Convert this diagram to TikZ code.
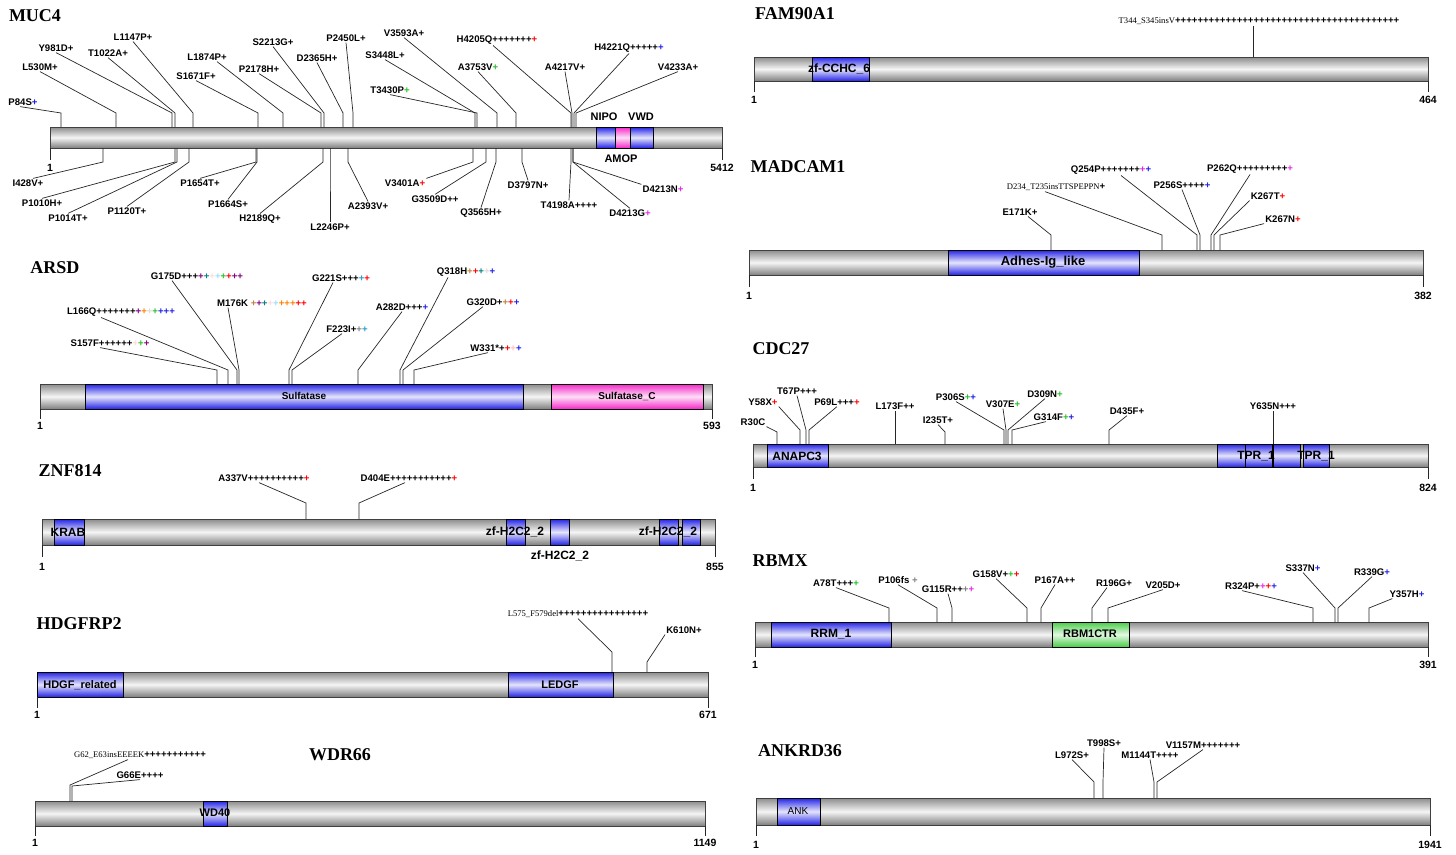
\documentclass[tikz,border=0pt]{standalone}
\usepackage{fontspec}
\setmainfont{Liberation Sans}
\newfontfamily\genefont{Liberation Serif}
\usetikzlibrary{positioning}
\definecolor{domblue}{RGB}{36,36,230}
\definecolor{dompink}{RGB}{245,40,200}
\definecolor{domgreen}{RGB}{70,205,70}
\definecolor{pblue}{RGB}{30,30,230}
\definecolor{pgreen}{RGB}{40,190,40}
\definecolor{pmag}{RGB}{225,40,225}
\newcommand{\plusc}[1]{\textcolor{#1}{+}}
\newcommand{\serifsmall}[1]{{\genefont\mdseries\fontsize{8.6}{9}\selectfont #1}}
\newcommand{\mut}[6]{%
  \node[lab] (#1) at (#2) {#3};
  \coordinate (#1-b) at (#5,\bary);
  \coordinate (#1-k) at (#5,#6);
  \draw[stick] (#1-b) -- (#1-k) -- (#4);}

\begin{document}
\begin{tikzpicture}[
  x=1pt, y=-1pt,
  genetitle/.style={font=\genefont\bfseries\fontsize{18}{20}\selectfont, inner sep=0pt},
  lab/.style={font=\bfseries\fontsize{9.6}{11}\selectfont, inner sep=1pt},
  num/.style={font=\bfseries\fontsize{10.5}{11}\selectfont, inner sep=0pt},
  dlab/.style={font=\bfseries\fontsize{11}{12}\selectfont, inner sep=0pt},
  bar/.style={draw=black!75, line width=0.6pt, top color=black!45, bottom color=black!50, middle color=black!4},
  dblue/.style={draw=black, line width=0.6pt, top color=domblue, bottom color=domblue, middle color=domblue!12},
  dpink/.style={draw=black, line width=0.6pt, top color=dompink, bottom color=dompink, middle color=dompink!15},
  dgreen/.style={draw=black, line width=0.6pt, top color=domgreen, bottom color=domgreen, middle color=domgreen!15},
  stick/.style={draw=black!85, line width=0.7pt},
  endtick/.style={draw=black!85, line width=0.7pt}
]
\useasboundingbox (0,0) rectangle (1456,854);

% MUC4
\node[genetitle] (t-muc4) at (35,16) {MUC4};
\draw[bar] (50,127) rectangle (722,148);
\draw[dblue] (596,127) rectangle (615,148);
\draw[dpink] (615,127) rectangle (630,148);
\draw[dblue] (630,127) rectangle (653,148);
\node[dlab] (d-nipo) at (604,117) {NIPO};
\node[dlab] (d-vwd) at (641,117) {VWD};
\node[dlab] (d-amop) at (621,159) {AMOP};
\draw[endtick] (50,148) -- (50,160);
\draw[endtick] (722,148) -- (722,160);
\node[num] (n-muc4a) at (50,168) {1};
\node[num] (n-muc4b) at (722,168) {5412};
\def\bary{127}
\mut{p84s}{23,102}{P84S\plusc{pblue}}{[xshift=-3pt]p84s.south}{61}{113}
\mut{l530m}{40,67}{L530M+}{l530m.south}{116}{113}
\mut{y981d}{56,48}{Y981D+}{y981d.south}{172}{113}
\mut{t1022a}{108,53}{T1022A+}{t1022a.south}{175}{113}
\mut{l1147p}{133,37}{L1147P+}{l1147p.south}{193}{113}
\mut{s1671f}{196,76}{S1671F+}{s1671f.south}{258}{113}
\mut{l1874p}{207,57}{L1874P+}{[xshift=10pt]l1874p.south}{283}{113}
\mut{p2178h}{259,69}{P2178H+}{p2178h.south}{321}{113}
\mut{s2213g}{273,42}{S2213G+}{s2213g.south}{324}{113}
\mut{d2365h}{317,58}{D2365H+}{d2365h.south}{343}{113}
\mut{p2450l}{346,38}{P2450L+}{p2450l.south}{353}{113}
\mut{s3448l}{385,55}{S3448L+}{s3448l.south}{475}{113}
\mut{t3430p}{390,90}{T3430P\plusc{pgreen}}{t3430p.south}{477}{113}
\mut{v3593a}{404,33}{V3593A+}{v3593a.south}{497}{113}
\mut{a3753v}{478,67}{A3753V\plusc{pgreen}}{a3753v.south}{516}{113}
\mut{h4205q}{497,40}{H4205Q+++++++\plusc{red}}{[xshift=-4pt]h4205q.south}{571}{113}
\mut{a4217v}{565,67}{A4217V+}{a4217v.south}{572}{113}
\mut{h4221q}{629,48}{H4221Q+++++\plusc{pblue}}{h4221q.south}{574}{113}
\mut{v4233a}{678,67}{V4233A+}{v4233a.south}{576}{113}
\def\bary{148}
\mut{i428v}{28,183}{I428V+}{[xshift=5pt]i428v.north}{103}{162}
\mut{p1010h}{42,203}{P1010H+}{p1010h.north}{175}{162}
\mut{p1014t}{68,218}{P1014T+}{p1014t.north}{177}{162}
\mut{p1120t}{127,211}{P1120T+}{p1120t.north}{189}{162}
\mut{p1654t}{200,183}{P1654T+}{p1654t.north}{256}{162}
\mut{p1664s}{228,204}{P1664S+}{p1664s.north}{257}{162}
\mut{h2189q}{260,219}{H2189Q+}{h2189q.north}{323}{162}
\mut{l2246p}{330,227}{L2246P+}{l2246p.north}{330}{162}
\mut{a2393v}{368,206}{A2393V+}{a2393v.north}{348}{162}
\mut{v3401a}{405,183}{V3401A\plusc{red}}{v3401a.north east}{473}{162}
\mut{g3509d}{435,199}{G3509D++}{g3509d.north}{486}{162}
\mut{q3565h}{481,213}{Q3565H+}{q3565h.north}{496}{162}
\mut{d3797n}{528,185}{D3797N+}{d3797n.north}{522}{162}
\mut{t4198a}{569,205}{T4198A++++}{t4198a.north}{571}{162}
\mut{d4213n}{663,189}{D4213N\plusc{pmag}}{d4213n.north west}{573}{162}
\mut{d4213g}{630,213}{D4213G\plusc{pmag}}{d4213g.north}{573}{162}

% ARSD
\node[genetitle] (t-arsd) at (55,268) {ARSD};
\draw[bar] (40,384) rectangle (712,409);
\draw[dblue] (85,384) rectangle (523,409);
\draw[dpink] (551,384) rectangle (703,409);
\node[dlab, font=\bfseries\fontsize{10}{11}\selectfont] (d-sulf) at (304,396) {Sulfatase};
\node[dlab, font=\bfseries\fontsize{10}{11}\selectfont] (d-sulfc) at (627,396) {Sulfatase\_C};
\draw[endtick] (40,409) -- (40,419);
\draw[endtick] (712,409) -- (712,419);
\node[num] (n-arsda) at (40,426) {1};
\node[num] (n-arsdb) at (712,426) {593};
\def\bary{384}
\mut{s157f}{110,343}{S157F++++++\plusc{pink!60}\plusc{pgreen}\plusc{violet}}{[xshift=-10pt]s157f.south}{217}{370}
\mut{l166q}{121,312}{L166Q+++++++\plusc{violet}\plusc{orange}\plusc{gray!30}\plusc{pgreen}\plusc{pblue}\plusc{pblue}\plusc{pblue}}{[xshift=-20pt]l166q.south}{228}{370}
\mut{g175d}{197,276}{G175D+++\plusc{violet}\plusc{teal}\plusc{pink!60}\plusc{cyan!40}\plusc{pgreen}\plusc{red}\plusc{violet}\plusc{violet}}{[xshift=-25pt]g175d.south}{237}{370}
\mut{m176k}{262,303}{M176K \plusc{brown}\plusc{violet}\plusc{teal}\plusc{pink!60}\plusc{cyan!40}\plusc{orange}\plusc{orange}\plusc{orange}\plusc{red}\plusc{red}}{[xshift=-34pt]m176k.south}{239}{370}
\mut{g221s}{341,278}{G221S+++\plusc{cyan!60!teal}\plusc{red}}{[xshift=-8pt]g221s.south}{289}{370}
\mut{f223i}{347,329}{F223I+\plusc{gray}\plusc{cyan!60!teal}}{[xshift=-5pt]f223i.south}{292}{370}
\mut{a282d}{402,307}{A282D+++\plusc{pblue}}{a282d.south}{358}{370}
\mut{q318h}{466,272}{Q318H\plusc{brown}\plusc{red}\plusc{teal}\plusc{gray!30}\plusc{pblue}}{[xshift=-18pt]q318h.south}{400}{370}
\mut{g320d}{493,302}{G320D+\plusc{brown}\plusc{red}\plusc{pblue}}{[xshift=-10pt]g320d.south}{403}{370}
\mut{w331}{496,348}{W331*+\plusc{red}\plusc{pink}\plusc{pblue}}{[xshift=-8pt]w331.south}{414}{370}

% ZNF814
\node[genetitle] (t-znf) at (70,471) {ZNF814};
\draw[bar] (42,519) rectangle (715,545);
\draw[dblue] (54,519) rectangle (84,545);
\draw[dblue] (506,519) rectangle (525,545);
\draw[dblue] (550,519) rectangle (569,545);
\draw[dblue] (659,519) rectangle (678,545);
\draw[dblue] (682,519) rectangle (700,545);
\node[dlab, font=\bfseries\fontsize{12}{13}\selectfont] (d-krab) at (68,532) {KRAB};
\node[dlab, font=\bfseries\fontsize{12}{13}\selectfont] (d-zf1) at (515,532) {zf-H2C2\_2};
\node[dlab, font=\bfseries\fontsize{12}{13}\selectfont] (d-zf2) at (560,556) {zf-H2C2\_2};
\node[dlab, font=\bfseries\fontsize{12}{13}\selectfont] (d-zf3) at (668,532) {zf-H2C2\_2};
\draw[endtick] (42,545) -- (42,557);
\draw[endtick] (715,545) -- (715,557);
\node[num] (n-znfa) at (42,567) {1};
\node[num] (n-znfb) at (715,567) {855};
\def\bary{519}
\mut{a337v}{264,478}{A337V++++++++++\plusc{red}}{[xshift=-5pt]a337v.south}{306}{503}
\mut{d404e}{409,478}{D404E+++++++++++\plusc{red}}{[xshift=-4pt]d404e.south}{359}{503}

% HDGFRP2
\node[genetitle] (t-hdg) at (79,624) {HDGFRP2};
\draw[bar] (37,672) rectangle (708,697);
\draw[dblue] (37,672) rectangle (123,697);
\draw[dblue] (508,672) rectangle (613,697);
\node[dlab] (d-hdgf) at (80,685) {HDGF\_related};
\node[dlab] (d-ledgf) at (560,685) {LEDGF};
\draw[endtick] (37,697) -- (37,708);
\draw[endtick] (708,697) -- (708,708);
\node[num] (n-hdga) at (37,715) {1};
\node[num] (n-hdgb) at (708,715) {671};
\def\bary{672}
\mut{l575}{578,614}{\serifsmall{L575\_F579del}++++++++++++++++}{l575.south}{612}{652}
\mut{k610n}{684,630}{K610N+}{k610n.south west}{647}{662}

% WDR66
\node[genetitle] (t-wdr) at (340,755) {WDR66};
\draw[bar] (35,801) rectangle (705,826);
\draw[dblue] (203,801) rectangle (227,826);
\node[dlab] (d-wd40) at (215,813) {WD40};
\draw[endtick] (35,826) -- (35,836);
\draw[endtick] (705,826) -- (705,836);
\node[num] (n-wdra) at (35,843) {1};
\node[num] (n-wdrb) at (705,843) {1149};
\def\bary{801}
\mut{g62}{140,755}{\serifsmall{G62\_E63insEEEEK}+++++++++++}{[xshift=-12pt]g62.south}{70}{785}
\mut{g66e}{140,775}{G66E++++}{g66e.south}{72}{786}

% FAM90A1
\node[genetitle] (t-fam) at (795,14) {FAM90A1};
\draw[bar] (754,57) rectangle (1428,81);
\draw[dblue] (812,57) rectangle (869,81);
\node[dlab, font=\bfseries\fontsize{12}{13}\selectfont] (d-zfc) at (839,69) {zf-CCHC\_6};
\draw[endtick] (754,81) -- (754,92);
\draw[endtick] (1428,81) -- (1428,92);
\node[num] (n-fama) at (754,100) {1};
\node[num] (n-famb) at (1428,100) {464};
\def\bary{57}
\mut{t344}{1259,21}{\serifsmall{T344\_S345insV}++++++++++++++++++++++++++++++++++++++++}{t344.south -| t344-b}{1253}{57}

% MADCAM1
\node[genetitle] (t-mad) at (798,167) {MADCAM1};
\draw[bar] (749,250) rectangle (1423,275);
\draw[dblue] (948,250) rectangle (1139,275);
\node[dlab, font=\bfseries\fontsize{13}{14}\selectfont] (d-adhes) at (1043,262) {Adhes-Ig\_like};
\draw[endtick] (749,275) -- (749,287);
\draw[endtick] (1423,275) -- (1423,287);
\node[num] (n-mada) at (749,296) {1};
\node[num] (n-madb) at (1423,296) {382};
\def\bary{250}
\mut{e171k}{1020,212}{E171K+}{[xshift=8pt]e171k.south}{1051}{235}
\mut{d234}{1056,187}{\serifsmall{D234\_T235insTTSPEPPN}+}{[xshift=-11pt]d234.south}{1162}{235}
\mut{q254p}{1111,170}{Q254P+++++++\plusc{pmag}\plusc{pblue}}{[xshift=10pt]q254p.south}{1197}{235}
\mut{p256s}{1182,185}{P256S++++\plusc{pblue}}{p256s.south}{1200}{235}
\mut{p262q}{1250,169}{P262Q+++++++++\plusc{pmag}}{p262q.south}{1211}{235}
\mut{k267t}{1268,196}{K267T\plusc{red}}{k267t.south west}{1214}{235}
\mut{k267n}{1283,219}{K267N\plusc{red}}{k267n.south west}{1220}{235}

% CDC27
\node[genetitle] (t-cdc) at (781,349) {CDC27};
\draw[bar] (753,444) rectangle (1428,467);
\draw[dblue] (767,444) rectangle (828,467);
\draw[dblue] (1217,444) rectangle (1245,467);
\draw[dblue] (1245,444) rectangle (1272,467);
\draw[dblue] (1273,444) rectangle (1300,467);
\draw[dblue] (1303,444) rectangle (1329,467);
\node[dlab, font=\bfseries\fontsize{12}{13}\selectfont] (d-anapc) at (797,456) {ANAPC3};
\node[dlab, font=\bfseries\fontsize{12}{13}\selectfont] (d-tpr1) at (1256,456) {TPR\_1};
\node[dlab, font=\bfseries\fontsize{12}{13}\selectfont] (d-tpr2) at (1316,456) {TPR\_1};
\draw[endtick] (753,467) -- (753,479);
\draw[endtick] (1428,467) -- (1428,479);
\node[num] (n-cdca) at (753,488) {1};
\node[num] (n-cdcb) at (1428,488) {824};
\def\bary{444}
\mut{r30c}{753,422}{R30C}{r30c.south east}{777}{432}
\mut{y58x}{763,402}{Y58X\plusc{red}}{y58x.south east}{800}{430}
\mut{t67p}{797,391}{T67P+++}{t67p.south}{806}{430}
\mut{p69l}{837,402}{P69L+++\plusc{red}}{p69l.south}{809}{430}
\mut{l173f}{895,406}{L173F++}{l173f.south}{895}{430}
\mut{i235t}{938,420}{I235T+}{i235t.south}{945}{432}
\mut{p306s}{956,397}{P306S\plusc{pgreen}\plusc{pblue}}{p306s.south}{1004}{430}
\mut{v307e}{1003,404}{V307E\plusc{pgreen}}{v307e.south}{1006}{430}
\mut{d309n}{1045,394}{D309N\plusc{pgreen}}{d309n.south}{1008}{430}
\mut{g314f}{1054,417}{G314F\plusc{pgreen}\plusc{pblue}}{[xshift=-8pt]g314f.south}{1012}{430}
\mut{d435f}{1127,411}{D435F+}{d435f.south}{1109}{430}
\mut{y635n}{1273,406}{Y635N+++}{y635n.south}{1273}{430}

% RBMX
\node[genetitle] (t-rbmx) at (780,561) {RBMX};
\draw[bar] (755,622) rectangle (1428,647);
\draw[dblue] (771,622) rectangle (891,647);
\draw[dgreen] (1052,622) rectangle (1129,647);
\node[dlab, font=\bfseries\fontsize{12}{13}\selectfont] (d-rrm) at (831,634) {RRM\_1};
\node[dlab] (d-rbm) at (1090,634) {RBM1CTR};
\draw[endtick] (755,647) -- (755,657);
\draw[endtick] (1428,647) -- (1428,657);
\node[num] (n-rbmxa) at (755,665) {1};
\node[num] (n-rbmxb) at (1428,665) {391};
\def\bary{622}
\mut{a78t}{836,583}{A78T+++\plusc{pgreen}}{a78t.south}{889}{608}
\mut{p106fs}{898,580}{P106fs \plusc{gray}}{p106fs.south}{937}{608}
\mut{g115r}{948,589}{G115R++\plusc{gray}\plusc{pmag}}{g115r.south}{952}{608}
\mut{g158v}{996,574}{G158V+\plusc{pgreen}\plusc{red}}{g158v.south}{1027}{608}
\mut{p167a}{1055,580}{P167A++}{p167a.south}{1041}{608}
\mut{r196g}{1114,583}{R196G+}{[xshift=-7pt]r196g.south}{1092}{608}
\mut{v205d}{1163,585}{V205D+}{v205d.south}{1108}{608}
\mut{r324p}{1251,586}{R324P+\plusc{pmag}\plusc{red}\plusc{pblue}}{[xshift=-9pt]r324p.south}{1313}{608}
\mut{s337n}{1303,568}{S337N\plusc{pblue}}{s337n.south}{1335}{608}
\mut{r339g}{1372,572}{R339G\plusc{pblue}}{r339g.south}{1338}{608}
\mut{y357h}{1407,594}{Y357H\plusc{pblue}}{[xshift=4pt]y357h.south west}{1369}{608}

% ANKRD36
\node[genetitle] (t-ank) at (800,751) {ANKRD36};
\draw[bar] (756,798) rectangle (1430,825);
\draw[dblue] (777,798) rectangle (820,825);
\node[dlab, font=\fontsize{10}{11}\selectfont] (d-ank) at (798,811) {ANK};
\draw[endtick] (756,825) -- (756,836);
\draw[endtick] (1430,825) -- (1430,836);
\node[num] (n-anka) at (756,845) {1};
\node[num] (n-ankb) at (1430,845) {1941};
\def\bary{798}
\mut{l972s}{1072,755}{L972S+}{l972s.south}{1094}{782}
\mut{t998s}{1104,743}{T998S+}{t998s.south}{1103}{782}
\mut{m1144t}{1150,755}{M1144T++++}{m1144t.south}{1154}{782}
\mut{v1157m}{1203,745}{V1157M+++++++}{v1157m.south}{1157}{782}
\end{tikzpicture}
\end{document}
